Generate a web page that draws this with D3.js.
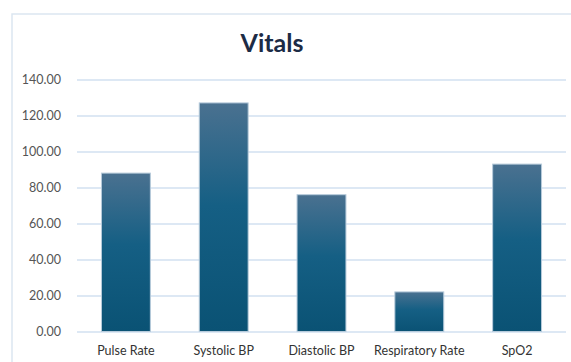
<!DOCTYPE html>
<html>
<head>
<meta charset="utf-8">
<script src="https://cdn.jsdelivr.net/npm/d3@7"></script>
<style>
  html, body { margin: 0; padding: 0; background: #ffffff; }
  svg { display: block; }
</style>
</head>
<body>
<svg id="chart" width="571" height="362"></svg>
<script>
// Vital signs, one bar per measurement
const categories = ["Pulse Rate", "Systolic BP", "Diastolic BP", "Respiratory Rate", "SpO2"];
const values = [88, 127, 76, 22, 93];
const yTicks = [0, 20, 40, 60, 80, 100, 120, 140];
const chartTitle = "Vitals";

const W = 571, H = 362;
const svg = d3.select("#chart");
const fontFamily = "Lato, 'Open Sans', sans-serif";

// frame around the chart area
svg.append("rect")
  .attr("x", 12).attr("y", 14)
  .attr("width", W + 20).attr("height", H + 20)
  .attr("fill", "#ffffff")
  .attr("stroke", "#dbe6f1")
  .attr("stroke-width", 1.5);

const plot = { left: 77, right: 566, top: 79.5, bottom: 331.5 };

const x = d3.scaleBand()
  .domain(categories)
  .range([plot.left, plot.right])
  .paddingInner(0.5)
  .paddingOuter(0.25);

const y = d3.scaleLinear()
  .domain([0, 140])
  .range([plot.bottom, plot.top]);

// vertical gradient for the bars
const defs = svg.append("defs");
const grad = defs.append("linearGradient")
  .attr("id", "barGrad")
  .attr("x1", 0).attr("y1", 0).attr("x2", 0).attr("y2", 1);
grad.append("stop").attr("offset", "0%").attr("stop-color", "#4a7190");
grad.append("stop").attr("offset", "45%").attr("stop-color", "#155f84");
grad.append("stop").attr("offset", "100%").attr("stop-color", "#0a5274");

// gridlines + y labels via axis
const yAxis = d3.axisLeft(y)
  .tickValues(yTicks)
  .tickSize(-(plot.right - plot.left))
  .tickPadding(16)
  .tickFormat(d3.format(".2f"));

const gy = svg.append("g")
  .attr("transform", `translate(${plot.left},0)`)
  .call(yAxis);
gy.select(".domain").remove();
gy.selectAll(".tick line")
  .attr("stroke", "#dde8f4")
  .attr("stroke-width", 2);
gy.selectAll(".tick text")
  .attr("fill", "#555555")
  .style("font-family", fontFamily)
  .style("font-size", "12.5px");

// bars
svg.append("g")
  .selectAll("rect")
  .data(values)
  .join("rect")
  .attr("x", (d, i) => x(categories[i]))
  .attr("y", d => y(d))
  .attr("width", x.bandwidth())
  .attr("height", d => y(0) - y(d))
  .attr("fill", "url(#barGrad)")
  .attr("stroke", "#b7cbdb")
  .attr("stroke-width", 1);

// category axis
const xAxis = d3.axisBottom(x).tickSize(0).tickPadding(15);
const gx = svg.append("g")
  .attr("transform", `translate(0,${plot.bottom})`)
  .call(xAxis);
gx.select(".domain").remove();
gx.selectAll(".tick text")
  .attr("fill", "#333333")
  .style("font-family", fontFamily)
  .style("font-size", "12.5px");

// title
svg.append("text")
  .attr("x", 272)
  .attr("y", 52)
  .attr("text-anchor", "middle")
  .attr("fill", "#1c2b45")
  .style("font-family", fontFamily)
  .style("font-weight", "bold")
  .style("font-size", "25px")
  .text(chartTitle);
</script>
</body>
</html>
